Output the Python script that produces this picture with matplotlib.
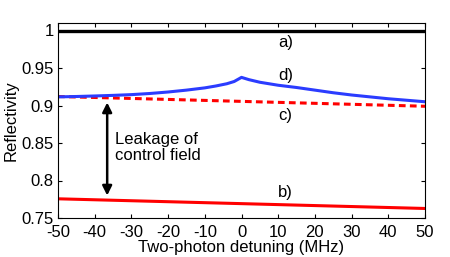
import numpy as np
import matplotlib
matplotlib.use("Agg")
import matplotlib.pyplot as plt

plt.rcParams['font.family'] = ['Liberation Sans', 'DejaVu Sans']
plt.rcParams['axes.unicode_minus'] = False

# detuning (MHz)
x_flat = [-50, 50]
a_vals = [1.0, 1.0]
b_vals = [0.7756, 0.7627]
c_vals = [0.912, 0.899]

x_d = [-50, -45, -40, -35, -30, -25, -20, -15, -10, -7, -4, -2, 0,
       2, 5, 10, 15, 20, 25, 30, 35, 40, 45, 50]
d_vals = [0.9115, 0.912, 0.9127, 0.9135, 0.9145, 0.916, 0.918, 0.9205, 0.9235,
          0.926, 0.929, 0.932, 0.9375, 0.9345, 0.931, 0.927, 0.924, 0.9205,
          0.917, 0.914, 0.9115, 0.909, 0.907, 0.905]

labels = ['a)', 'b)', 'c)', 'd)']
label_y = [0.984, 0.784, 0.887, 0.940]

fig = plt.figure(figsize=(4.5, 2.57), dpi=100)
ax = fig.add_axes([58/450, 1 - 218/257, (425-58)/450, (218-23)/257])

ax.plot(x_flat, a_vals, color='black', lw=2.4)
ax.plot(x_flat, b_vals, color='red', lw=2.2)
ax.plot(x_flat, c_vals, color='red', lw=2.2, ls=(0, (2.2, 1.4)))
ax.plot(x_d, d_vals, color='#2b3cff', lw=2.2)

for lab, yy in zip(labels, label_y):
    ax.text(12, yy, lab, fontsize=12, ha='center', va='center')

ax.annotate('', xy=(-36.6, 0.780), xytext=(-36.6, 0.904),
            arrowprops=dict(arrowstyle='<|-|>', color='black', lw=1.8,
                            mutation_scale=14, shrinkA=0, shrinkB=0))
ax.text(-34.5, 0.844, 'Leakage of\ncontrol field', fontsize=12,
        ha='left', va='center', linespacing=1.1)

ax.set_xlim(-50, 50)
ax.set_ylim(0.75, 1.01)
ax.set_xticks(np.arange(-50, 51, 10))
ax.set_yticks([0.75, 0.8, 0.85, 0.9, 0.95, 1])
ax.set_yticklabels(['0.75', '0.8', '0.85', '0.9', '0.95', '1'])
ax.tick_params(direction='in', top=True, right=True, labelsize=12, length=3)
ax.tick_params(axis='x', pad=5)
ax.tick_params(axis='y', pad=3)
ax.set_xlabel('Two-photon detuning (MHz)', fontsize=12, labelpad=0)
ax.set_ylabel('Reflectivity', fontsize=12, labelpad=2)

fig.savefig('out.png', dpi=100)
